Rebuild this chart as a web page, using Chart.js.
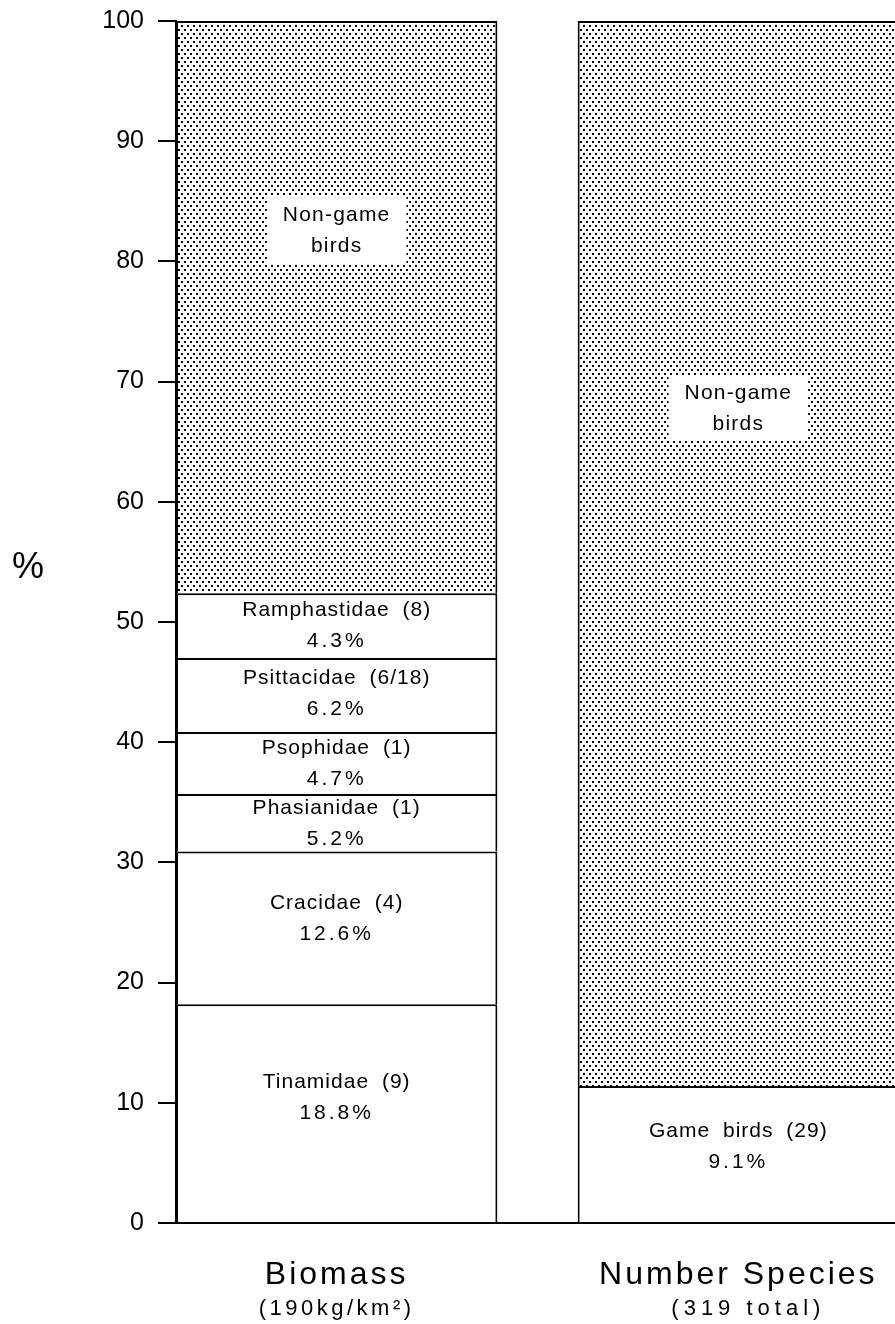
<!DOCTYPE html>
<html lang="en">
<head>
  <meta charset="UTF-8" />
  <title>Game birds: biomass and number of species</title>
  <script src="https://cdn.jsdelivr.net/npm/chart.js"></script>
  <style>
    html, body { margin: 0; padding: 0; background: #fff; overflow: hidden; }
    #wrap { width: 895px; height: 1324px; position: relative; }
  </style>
</head>
<body>
  <div id="wrap"><canvas id="birdChart"></canvas></div>

  <script>
    // columns
    const groups = ['Biomass', 'Number Species'];
    const groupNotes = ['(190kg/km²)', '(319 total)'];

    // biomass column, bottom to top
    const biomassFamilies = ['Tinamidae (9)', 'Cracidae (4)', 'Phasianidae (1)', 'Psophidae (1)', 'Psittacidae (6/18)', 'Ramphastidae (8)'];
    const biomassPercents = ['18.8%', '12.6%', '5.2%', '4.7%', '6.2%', '4.3%'];
    const biomassValues = [18.2, 12.7, 4.8, 5.15, 6.15, 5.4];

    // number species column
    const gameBirdLabel = 'Game birds (29)';
    const gameBirdPercent = '9.1%';
    const gameBirdValue = 11.4;

    // top part of both columns
    const nonGameLabel = ['Non-game', 'birds'];
    const nonGameValues = [47.6, 88.6];

    const yTicks = [0, 10, 20, 30, 40, 50, 60, 70, 80, 90, 100];

    const FONT = "'Liberation Sans', Arial, Helvetica, sans-serif";

    // stipple fill of the non-game part
    function dotPattern() {
      const c = document.createElement('canvas');
      c.width = 6; c.height = 8;
      const g = c.getContext('2d');
      g.fillStyle = '#fff';
      g.fillRect(0, 0, 6, 8);
      g.fillStyle = '#000';
      g.fillRect(1, 1, 2, 2);
      g.fillRect(4, 5, 2, 2);
      return g.createPattern(c, 'repeat');
    }
    const dots = dotPattern();

    const datasets = [];
    biomassFamilies.forEach((name, i) => {
      datasets.push({
        label: name,
        pct: biomassPercents[i],
        data: [{ x: 0, y: biomassValues[i] }],
        backgroundColor: '#fff'
      });
    });
    datasets.push({
      label: gameBirdLabel,
      pct: gameBirdPercent,
      data: [{ x: 1, y: gameBirdValue }],
      backgroundColor: '#fff'
    });
    datasets.push({
      label: 'Non-game birds',
      nonGame: true,
      data: nonGameValues.map((v, i) => ({ x: i, y: v })),
      backgroundColor: dots
    });

    // where the "Non-game birds" boxes sit, in % units
    const nonGameLabelAt = [82.6, 67.8];

    const segmentLabels = {
      id: 'segmentLabels',
      afterDatasetsDraw(chart) {
        const ctx = chart.ctx;
        const yScale = chart.scales.y;
        ctx.save();
        ctx.fillStyle = '#000';
        ctx.textAlign = 'center';
        ctx.textBaseline = 'middle';
        chart.data.datasets.forEach((ds, di) => {
          const meta = chart.getDatasetMeta(di);
          meta.data.forEach((bar, bi) => {
            if (ds.nonGame) {
              const cy = yScale.getPixelForValue(nonGameLabelAt[bi]);
              const cx = bar.x;
              ctx.font = '21px ' + FONT;
              ctx.letterSpacing = '1.2px';
              const w = Math.max(...nonGameLabel.map(t => ctx.measureText(t).width));
              ctx.fillStyle = '#fff';
              ctx.fillRect(cx - w / 2 - 16, cy - 33, w + 32, 66);
              ctx.fillStyle = '#000';
              ctx.fillText(nonGameLabel[0], cx, cy - 15);
              ctx.fillText(nonGameLabel[1], cx, cy + 16);
            } else {
              const h = bar.base - bar.y;
              // tall boxes carry their text a little above the middle
              const cy = bar.y + h / 2 - Math.max(0, h - 60) * 0.1;
              ctx.font = '21px ' + FONT;
              ctx.letterSpacing = '1px';
              ctx.wordSpacing = '6px';
              ctx.fillText(ds.label, bar.x, cy - 15);
              ctx.letterSpacing = '3px';
              ctx.wordSpacing = '0px';
              ctx.fillText(ds.pct, bar.x, cy + 16);
            }
          });
        });
        ctx.restore();
      }
    };

    const axisText = {
      id: 'axisText',
      afterDraw(chart) {
        const ctx = chart.ctx;
        const xScale = chart.scales.x;
        const area = chart.chartArea;
        ctx.save();
        ctx.fillStyle = '#000';
        ctx.textAlign = 'center';
        ctx.textBaseline = 'middle';
        groups.forEach((g, i) => {
          const x = xScale.getPixelForValue(i);
          ctx.font = '32px ' + FONT;
          ctx.letterSpacing = '3px';
          ctx.fillText(g, x, area.bottom + 52);
          ctx.font = '22px ' + FONT;
          ctx.letterSpacing = i === 0 ? '3.5px' : '5px';
          ctx.fillText(groupNotes[i], x + (i === 0 ? 0 : 10), area.bottom + 86);
        });
        // y axis title, upright
        ctx.letterSpacing = '0px';
        ctx.font = '36px ' + FONT;
        ctx.fillText('%', 28, area.top + area.height * 0.455);
        ctx.restore();
      }
    };

    new Chart(document.getElementById('birdChart'), {
      type: 'bar',
      data: { datasets },
      options: {
        responsive: true,
        maintainAspectRatio: false,
        animation: false,
        layout: { padding: { top: 21, right: 0, bottom: 0, left: 0 } },
        categoryPercentage: 0.8,
        barPercentage: 1,
        borderColor: '#000',
        borderWidth: 2,
        plugins: {
          legend: { display: false },
          tooltip: { enabled: false }
        },
        scales: {
          x: {
            type: 'linear',
            stacked: true,
            offset: false,
            min: -0.4,
            max: 1.39,
            afterBuildTicks: s => { s.ticks = groups.map((g, i) => ({ value: i })); },
            afterFit: s => { s.height = 101; },
            ticks: { display: false },
            grid: { drawOnChartArea: false, drawTicks: false },
            border: { display: true, color: '#000', width: 2 }
          },
          y: {
            stacked: true,
            min: 0,
            max: 100,
            afterBuildTicks: s => { s.ticks = yTicks.map(v => ({ value: v })); },
            afterFit: s => {
              s.width = 176;
              s.paddingTop = 0;
              s.paddingBottom = 0;
            },
            ticks: {
              color: '#000',
              padding: 14,
              font: { family: FONT, size: 25 }
            },
            grid: {
              drawOnChartArea: false,
              tickLength: 18,
              color: '#000',
              lineWidth: 2
            },
            border: { display: true, color: '#000', width: 2 }
          }
        }
      },
      plugins: [segmentLabels, axisText]
    });
  </script>
</body>
</html>
